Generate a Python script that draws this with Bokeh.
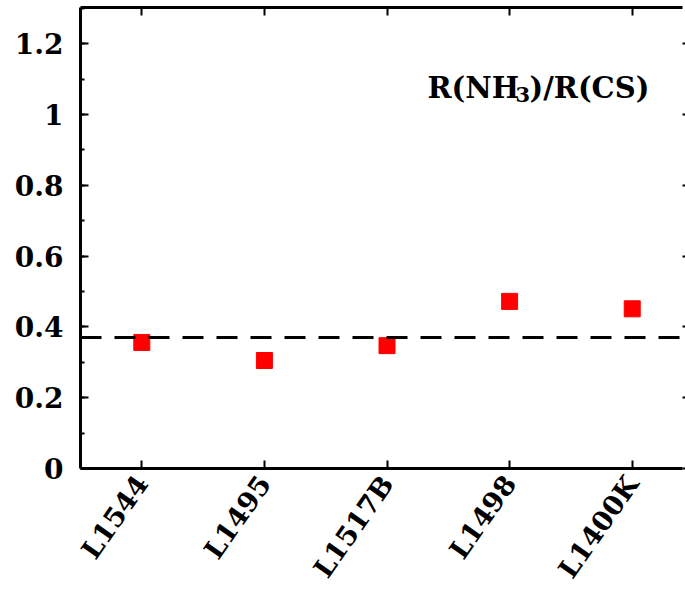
import math
from bokeh.plotting import figure
from bokeh.models import (Range1d, FixedTicker, LinearAxis, Span, Label,
                          ColumnDataSource)
from bokeh.embed import file_html
from bokeh.resources import INLINE

# Cores and their NH3/CS abundance-ratio values
cores = ["L1544", "L1495", "L1517B", "L1498", "L1400K"]
ratio = [0.356, 0.305, 0.347, 0.472, 0.451]
mean_ratio = 0.37

y_major = [0, 0.2, 0.4, 0.6, 0.8, 1.0, 1.2]
y_minor = [0.1, 0.3, 0.5, 0.7, 0.9, 1.1, 1.3]

xpos = list(range(1, len(cores) + 1))
src = ColumnDataSource(dict(x=xpos, y=ratio, name=cores))

FONT = "DejaVu Serif"

p = figure(width=685, height=595, output_backend="svg", toolbar_location=None,
           x_range=Range1d(0.5, 5.41), y_range=Range1d(0, 1.302),
           min_border_left=80, min_border_bottom=127, min_border_top=7,
           min_border_right=0, x_axis_location=None, y_axis_location=None)
p.outline_line_color = None
p.grid.visible = False
p.background_fill_color = "white"
p.border_fill_color = "white"

yticker = FixedTicker(ticks=y_major, minor_ticks=y_major + y_minor)
xticker = FixedTicker(ticks=xpos, minor_ticks=[])


def style(ax, labels=None):
    ax.axis_line_width = 3
    ax.axis_line_color = "black"
    ax.major_tick_in = 8
    ax.major_tick_out = 0
    ax.minor_tick_in = 4
    ax.minor_tick_out = 0
    ax.major_tick_line_width = 2
    ax.minor_tick_line_width = 2
    ax.major_label_text_color = "black"
    if labels is not None:
        ax.major_label_overrides = {t: "" for t in labels}
        ax.major_label_standoff = 0


left = LinearAxis(ticker=yticker)
style(left)
left.major_label_text_font = FONT
left.major_label_text_font_style = "bold"
left.major_label_text_font_size = "28px"
left.major_label_standoff = 17
left.major_label_overrides = {0: "0", 1.0: "1"}
p.add_layout(left, "left")

# right edge: short outward ticks only
right = LinearAxis(ticker=yticker)
style(right, y_major)
right.axis_line_color = None
right.major_tick_in = 0
right.major_tick_out = 3
right.minor_tick_in = 0
p.add_layout(right, "right")

# bottom axis carries the slanted core names
bottom = LinearAxis(ticker=xticker)
style(bottom)
bottom.major_label_overrides = {x: c for x, c in zip(xpos, cores)}
bottom.major_label_text_font = FONT
bottom.major_label_text_font_style = "bold"
bottom.major_label_text_font_size = "27px"
bottom.major_label_orientation = math.radians(55)
bottom.major_label_standoff = 10
p.add_layout(bottom, "below")

top = LinearAxis(ticker=xticker)
style(top, xpos)
p.add_layout(top, "above")

p.add_layout(Span(location=mean_ratio, dimension="width", line_color="black",
                  line_width=3, line_dash="21 13"))

p.scatter("x", "y", source=src, marker="square", size=16,
          fill_color="#ff0000", line_color="#ff0000")

# ratio label with a lowered subscript
lab_x, lab_y = 3.33, 1.076
common = dict(text_font=FONT, text_font_style="bold", text_color="black",
              text_baseline="alphabetic", text_align="left")
p.add_layout(Label(x=lab_x, y=lab_y, text="R(NH", text_font_size="29px",
                   **common))
p.add_layout(Label(x=lab_x, y=lab_y, text="3", text_font_size="21px",
                   x_offset=88, y_offset=-7, **common))
p.add_layout(Label(x=lab_x, y=lab_y, text=")/R(CS)", text_font_size="29px",
                   x_offset=102, **common))

open("out.html", "w").write(file_html(p, INLINE))
